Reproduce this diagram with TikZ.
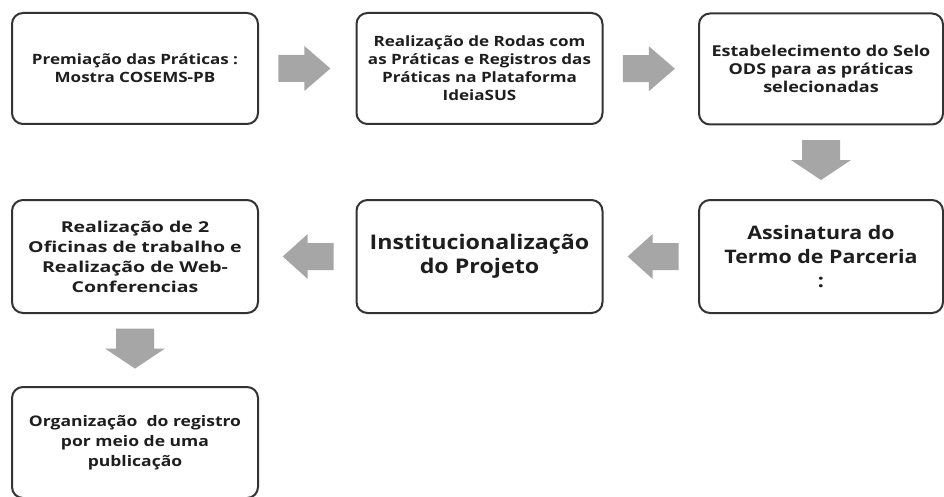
\documentclass[tikz,border=0pt]{standalone}
\usepackage{fontspec}
\setmainfont{Open Sans}
\newfontfamily\fsmall{Open Sans}[FakeStretch=1.2]
\newfontfamily\fbig{Open Sans}[FakeStretch=1.15]
\newfontfamily\fmid{Open Sans}[FakeStretch=1.3]
\definecolor{arrowgray}{HTML}{A6A6A6}
\definecolor{boxline}{HTML}{333333}
\definecolor{txt}{HTML}{1E1E1E}
\begin{document}
\begin{tikzpicture}[x=1pt,y=-1pt,
  box/.style={draw=boxline,line width=2pt,rounded corners=11pt,fill=white,
    minimum width=246pt,inner sep=0pt,align=center,text=txt},
  small/.style={font=\fsmall\bfseries\fontsize{14.2}{18}\selectfont},
  mid/.style={font=\fmid\bfseries\fontsize{15}{20}\selectfont},
  big/.style={font=\fbig\bfseries\fontsize{18.6}{24}\selectfont},
  bigger/.style={font=\fbig\bfseries\fontsize{20.2}{24}\selectfont},
  low/.style={font=\fsmall\bfseries\fontsize{14.6}{20}\selectfont},
  pics/rarrow/.style={code={\fill[arrowgray] (-26,-13.5)--(0,-13.5)--(0,-22.5)--(26,0)--(0,22.5)--(0,13.5)--(-26,13.5)--cycle;}},
  pics/larrow/.style={code={\fill[arrowgray] (26,-13.5)--(0,-13.5)--(0,-22.5)--(-25,0)--(0,22.5)--(0,13.5)--(26,13.5)--cycle;}},
  pics/darrow/.style={code={\fill[arrowgray] (-19,-20)--(19,-20)--(19,0)--(30,0)--(0,20)--(-30,0)--(-19,0)--cycle;}}
]
\useasboundingbox (0,0) rectangle (944,497);
\fill[white] (0,0) rectangle (944,497);

\node[box,small,minimum height=111pt] (b1) at (135,68.5) {Premiação das Práticas :\\Mostra COSEMS-PB};
\node[box,small,minimum height=111pt] (b2) at (479.5,68.5) {Realização de Rodas com\\as Práticas e Registros das\\Práticas na Plataforma\\IdeiaSUS};
\node[box,small,font=\fsmall\bfseries\fontsize{15}{18}\selectfont,minimum height=111pt,minimum width=244pt] (b3) at (821,69) {Estabelecimento do Selo\\ODS para as práticas\\selecionadas};
\node[box,big,minimum height=113pt,minimum width=244pt] (b4) at (821,256.5) {Assinatura do\\Termo de Parceria\\:};
\node[box,bigger,minimum height=113pt] (b5) at (479.5,256.5) {Institucionalização\\do Projeto};
\node[box,mid,minimum height=113pt] (b6) at (135,256.5) {Realização de 2\\Oficinas de trabalho e\\Realização de Web-\\Conferencias};
\node[box,low,minimum height=111pt] (b7) at (135,442.5) {Organização\ \ do registro\\por meio de uma\\publicação};

\path (b1.east) -- coordinate[pos=0.47] (a1) (b2.west);
\path (b2.east) -- coordinate[pos=0.48] (a2) (b3.west);
\path (b3.south) -- coordinate[pos=0.47] (a3) (b4.north);
\path (b4.west) -- coordinate[pos=0.48] (a4) (b5.east);
\path (b5.west) -- coordinate[pos=0.495] (a5) (b6.east);
\path (b6.south) -- coordinate[pos=0.48] (a6) (b7.north);

\pic at (a1) {rarrow};
\pic at (a2) {rarrow};
\pic at (a3) {darrow};
\pic at (a4) {larrow};
\pic at (a5) {larrow};
\pic at (a6) {darrow};
\end{tikzpicture}
\end{document}
